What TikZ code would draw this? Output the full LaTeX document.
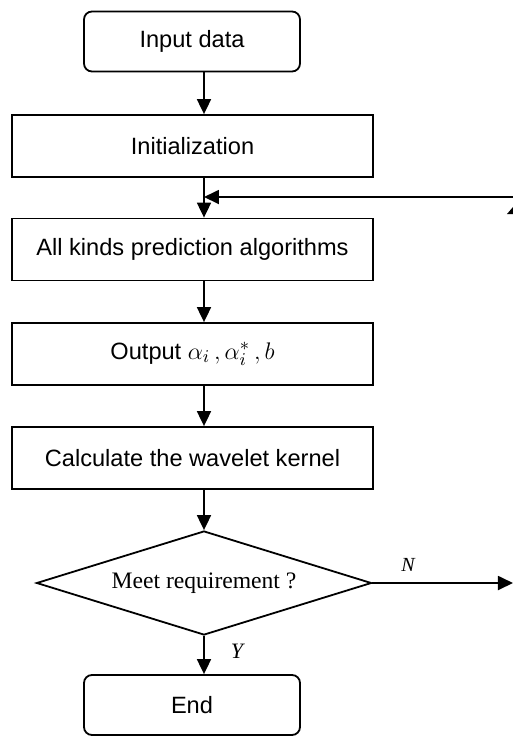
\documentclass[tikz,border=0pt]{standalone}
\usepackage{fontspec}
\setmainfont{Liberation Serif}
\setsansfont{Liberation Sans}
\usepackage{tikz}
\usetikzlibrary{positioning,arrows.meta,shapes.geometric}

\begin{document}
\begin{tikzpicture}[x=0.5pt, y=-0.5pt, line width=0.9pt,
  fontbox/.style={font=\sffamily\fontsize{11.8}{14}\selectfont},
  term/.style={draw, rounded corners=4pt, minimum width=108pt, minimum height=30pt, fontbox, inner sep=0pt},
  proc/.style={draw, minimum width=180.5pt, minimum height=31pt, fontbox, inner sep=0pt},
  test/.style={draw, diamond, shape aspect=3.2, inner sep=0pt, minimum width=167.5pt, minimum height=52pt,
    font=\fontsize{11.8}{14}\selectfont},
  arr/.style={-{Triangle[length=7.5pt, width=7pt]}},
  lab/.style={font=\itshape\fontsize{11}{13}\selectfont, inner sep=0pt}]

\useasboundingbox (0,0) rectangle (513,736);

% --- the main column ---
\node[term] (in)   at (192,41.5) {Input data};
\node[proc] (init) at (192.5,146) {Initialization};
\node[proc] (alg)  at (192.5,249.5) {All kinds prediction algorithms};
\node[proc] (out)  at (192.5,354) {Output {\fontsize{13}{14}\selectfont$\alpha_{i}\,,\alpha_{i}^{*}\,,b$}\hspace{10pt}};
\node[proc] (kern) at (192.5,458) {Calculate the wavelet kernel};
\node[test] (dec)  at (204,583) {Meet requirement ?};
\node[term] (end)  at (192,705) {End};

% arrows run down a line right of the box centres
\coordinate (spine) at (204,0);
\draw[arr] (in.south -| spine)   -- (init.north -| spine);
\draw[arr] (init.south -| spine) -- (alg.north -| spine);
\draw[arr] (alg.south -| spine)  -- (out.north -| spine);
\draw[arr] (out.south -| spine)  -- (kern.north -| spine);
\draw[arr] (kern.south -| spine) -- (dec.north);
\draw[arr] (dec.south) -- (end.north -| spine);

% --- loop back and the two exits ---
\coordinate (fb)   at (513,197);
\coordinate (fbin) at (204,197);
\draw[arr] (fb) -- (fbin);
\coordinate (nout) at (513,583);
\draw[arr] (dec.east) -- (nout);
\fill (507,214) -- (513,207) -- (513,214) -- cycle;

\node[lab, font=\itshape\fontsize{10}{12}\selectfont] (nlab) at (408,565) {N};
\node[lab] (ylab) at (237,651) {Y};
\end{tikzpicture}
\end{document}
